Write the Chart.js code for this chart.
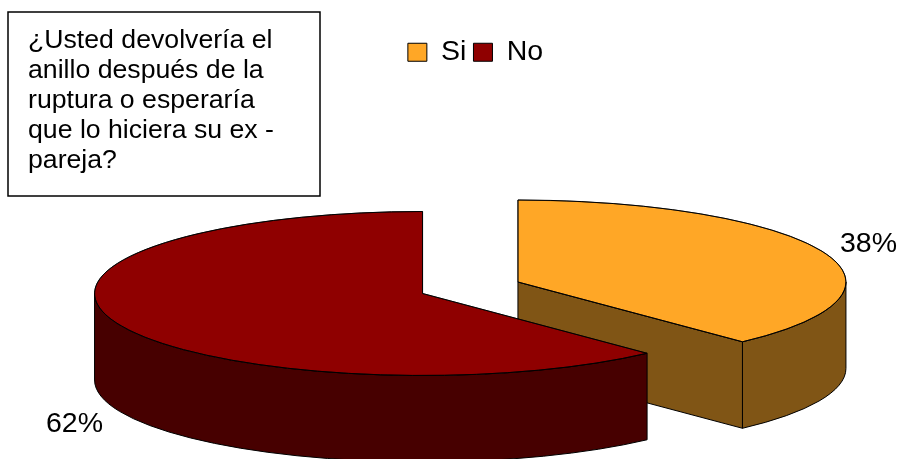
<!DOCTYPE html>
<html><head><meta charset="utf-8">
<style>html,body{margin:0;padding:0;background:#fff;overflow:hidden}canvas{display:block}</style>
<script src="https://cdn.jsdelivr.net/npm/chart.js@4"></script>
</head><body><canvas id="c" width="901" height="459"></canvas>
<script>
const categories = ['Si', 'No'];
const percentages = [38, 62];
const topColors = ['#FFA726', '#8F0000'];
const wallColors = ['#805515', '#470000'];
const questionLines = ['¿Usted devolvería el', 'anillo después de la', 'ruptura o esperaría', 'que lo hiciera su ex -', 'pareja?'];

const FONT = '"Liberation Sans", Arial, sans-serif';
const VIEW = { cx: 470.25, cy: 287.75, squash: 0.25, depth: 86.5, explodeX: 51.3, explodeY: 15.6 };
const LABEL_AT = [[840, 252], [46, 432]];
const BOX = { x: 8, y: 12, w: 312, h: 184, textX: 28, firstBase: 48, pitch: 30, size: 26.67 };

function centerOf(arc) {
  const mid = (arc.startAngle + arc.endAngle) / 2;
  return [VIEW.cx + Math.cos(mid) * VIEW.explodeX, VIEW.cy + Math.sin(mid) * VIEW.explodeY];
}
function drawWall(ctx, arc, color) {
  const [x, y] = centerOf(arc);
  const r = arc.outerRadius, ry = r * VIEW.squash, d = VIEW.depth;
  const a0 = Math.max(arc.startAngle, 0), a1 = Math.min(arc.endAngle, Math.PI);
  const pt = a => [x + r * Math.cos(a), y + ry * Math.sin(a)];
  ctx.fillStyle = color; ctx.strokeStyle = '#000'; ctx.lineWidth = 1;
  const radial = a => {
    const p = pt(a);
    ctx.beginPath(); ctx.moveTo(x, y); ctx.lineTo(p[0], p[1]); ctx.lineTo(p[0], p[1] + d); ctx.lineTo(x, y + d); ctx.closePath();
    ctx.fill(); ctx.stroke();
  };
  if (Math.cos(arc.endAngle) > 1e-9) radial(arc.endAngle);
  if (Math.cos(arc.startAngle) < -1e-9) radial(arc.startAngle);
  if (a1 > a0) {
    ctx.beginPath();
    ctx.ellipse(x, y, r, ry, 0, a0, a1);
    ctx.ellipse(x, y + d, r, ry, 0, a1, a0, true);
    ctx.closePath(); ctx.fill(); ctx.stroke();
  }
}
const pie3d = {
  id: 'pie3d',
  beforeDatasetsDraw(chart) {
    const ctx = chart.ctx;
    chart.getDatasetMeta(0).data.forEach((arc, i) => {
      drawWall(ctx, arc, wallColors[i]);
      const [x, y] = centerOf(arc);
      ctx.save();
      ctx.translate(x, y);
      ctx.scale(1, VIEW.squash);
      ctx.translate(-arc.x, -arc.y);
      arc.draw(ctx);
      ctx.restore();
      const r = arc.outerRadius;
      ctx.save();
      ctx.strokeStyle = '#000'; ctx.lineWidth = 1;
      ctx.beginPath();
      ctx.moveTo(x, y);
      ctx.ellipse(x, y, r, r * VIEW.squash, 0, arc.startAngle, arc.endAngle);
      ctx.closePath(); ctx.stroke();
      ctx.restore();
    });
    return false;
  },
  afterDraw(chart) {
    const ctx = chart.ctx;
    ctx.save();
    ctx.fillStyle = '#000'; ctx.textBaseline = 'alphabetic'; ctx.textAlign = 'left';
    ctx.font = '28.5px ' + FONT;
    percentages.forEach((v, i) => ctx.fillText(v + '%', LABEL_AT[i][0], LABEL_AT[i][1]));
    ctx.strokeStyle = '#000'; ctx.lineWidth = 1.5;
    ctx.strokeRect(BOX.x, BOX.y, BOX.w, BOX.h);
    ctx.font = BOX.size + 'px ' + FONT;
    questionLines.forEach((t, i) => ctx.fillText(t, BOX.textX, BOX.firstBase + i * BOX.pitch));
    ctx.restore();
  }
};
new Chart(document.getElementById('c'), {
  type: 'pie',
  data: { labels: categories, datasets: [{ data: percentages, backgroundColor: topColors, borderColor: '#000', borderWidth: 1 }] },
  options: {
    responsive: false, animation: false, radius: 328,
    events: [],
    layout: { padding: { left: 50, top: 31, right: 0, bottom: 0 } },
    plugins: {
      tooltip: { enabled: false },
      legend: { position: 'top', labels: { boxWidth: 19, boxHeight: 18, padding: 7, color: '#000', font: { family: FONT, size: 28.5 } } }
    }
  },
  plugins: [pie3d]
});
</script></body></html>
